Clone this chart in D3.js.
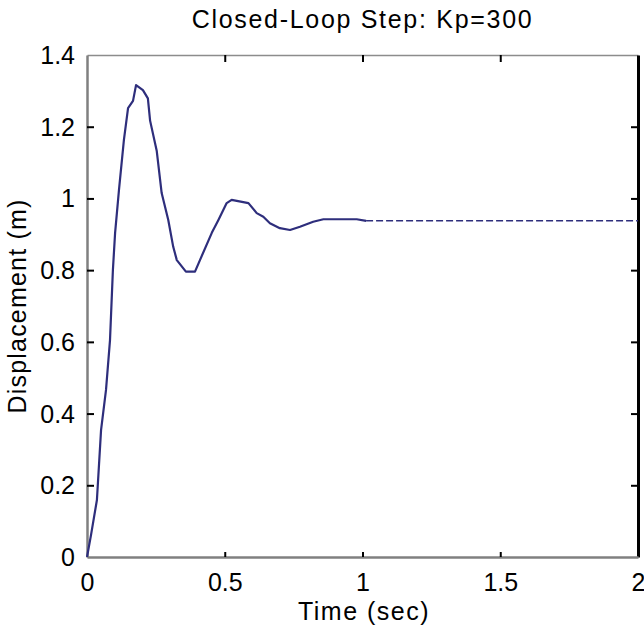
<!DOCTYPE html>
<html>
<head>
<meta charset="utf-8">
<script src="https://cdn.jsdelivr.net/npm/d3@7"></script>
<style>
  body { margin: 0; background: #fff; }
  svg text { font-family: "Liberation Sans", Arial, sans-serif; fill: #000; }
</style>
</head>
<body>
<svg width="644" height="626"></svg>
<script>
// step response (time in sec, displacement in m)
var times = [0, 0.0145, 0.036, 0.051, 0.069, 0.0835, 0.094, 0.102, 0.116, 0.134,
             0.149, 0.167, 0.178, 0.203, 0.221, 0.229, 0.253, 0.271, 0.295, 0.313,
             0.326, 0.359, 0.392, 0.410, 0.453, 0.477, 0.507, 0.525, 0.586, 0.616,
             0.640, 0.664, 0.700, 0.737, 0.773, 0.821, 0.858, 0.979, 1.013];
var displacement = [0, 0.061, 0.159, 0.354, 0.466, 0.605, 0.80, 0.904, 1.023, 1.163,
                    1.252, 1.272, 1.316, 1.302, 1.279, 1.217, 1.133, 1.015, 0.94, 0.865,
                    0.828, 0.796, 0.796, 0.828, 0.904, 0.94, 0.987, 0.996, 0.987, 0.959,
                    0.949, 0.931, 0.917, 0.912, 0.921, 0.935, 0.942, 0.942, 0.9375];
var finalValue = 0.9375;
var finalTimes = [1.013, 2];

var xTicks = [0, 0.5, 1, 1.5, 2];
var yTicks = [0, 0.2, 0.4, 0.6, 0.8, 1, 1.2, 1.4];

var svg = d3.select("svg");
var plotL = 87, plotR = 638, plotT = 55, plotB = 557;

var x = d3.scaleLinear().domain([0, 2]).range([plotL, plotR]);
var y = d3.scaleLinear().domain([0, 1.4]).range([plotB, plotT]);

var fmt = function(d) { return String(+d.toFixed(1)); };

// top and right frame, ticks only
svg.append("g")
    .attr("transform", "translate(0," + plotT + ")")
    .call(d3.axisTop(x).tickValues(xTicks.slice(1, 4)).tickSize(-7).tickSizeOuter(0).tickFormat(""))
    .call(function(g) {
      g.select(".domain").attr("stroke", "#8c8c8c").attr("stroke-width", 1.5);
      g.selectAll(".tick line").attr("stroke", "#000").attr("stroke-width", 2);
    });

svg.append("g")
    .attr("transform", "translate(" + plotR + ",0)")
    .call(d3.axisRight(y).tickValues(yTicks.slice(1, 7)).tickSize(-7).tickSizeOuter(0).tickFormat(""))
    .call(function(g) {
      g.select(".domain").attr("stroke", "#000").attr("stroke-width", 3);
      g.selectAll(".tick line").attr("stroke", "#000").attr("stroke-width", 2);
    });

// left axis
svg.append("g")
    .attr("transform", "translate(" + plotL + ",0)")
    .call(d3.axisLeft(y).tickValues(yTicks).tickSize(-7).tickSizeOuter(0).tickPadding(12).tickFormat(fmt))
    .call(function(g) {
      g.select(".domain").attr("stroke", "#808080").attr("stroke-width", 2.5);
      g.selectAll(".tick line").attr("stroke", "#000").attr("stroke-width", 2)
        .filter(function(d) { return d == 0 || d == 1.4; }).remove();
      g.selectAll(".tick text").attr("font-size", 25).attr("fill", "#000")
        .attr("font-family", "Liberation Sans, Arial, sans-serif").attr("dy", "0.34em");
    });

// bottom axis
svg.append("g")
    .attr("transform", "translate(0," + plotB + ")")
    .call(d3.axisBottom(x).tickValues(xTicks).tickSize(-5).tickSizeOuter(0).tickPadding(16).tickFormat(fmt))
    .call(function(g) {
      g.select(".domain").attr("stroke", "#808080").attr("stroke-width", 2.5);
      g.selectAll(".tick line").attr("stroke", "#000").attr("stroke-width", 2)
        .filter(function(d) { return d == 0 || d == 2; }).remove();
      g.selectAll(".tick text").attr("font-size", 25).attr("fill", "#000")
        .attr("font-family", "Liberation Sans, Arial, sans-serif");
    });

// response curve
var line = d3.line()
    .x(function(d) { return x(d[0]); })
    .y(function(d) { return y(d[1]); });

svg.append("path")
    .datum(d3.zip(times, displacement))
    .attr("fill", "none")
    .attr("stroke", "#2e2e7c")
    .attr("stroke-width", 2.2)
    .attr("stroke-linejoin", "round")
    .attr("d", line);

// steady state, dashed
svg.append("path")
    .datum(finalTimes.map(function(t) { return [t, finalValue]; }))
    .attr("fill", "none")
    .attr("stroke", "#2e2e7c")
    .attr("stroke-width", 1.5)
    .attr("stroke-dasharray", "7,3")
    .attr("d", line);

// titles
svg.append("text")
    .attr("x", (plotL + plotR) / 2)
    .attr("y", 28)
    .attr("text-anchor", "middle")
    .attr("font-size", 25)
    .attr("letter-spacing", 1.7)
    .text("Closed-Loop Step: Kp=300");

svg.append("text")
    .attr("x", 364)
    .attr("y", 620)
    .attr("text-anchor", "middle")
    .attr("font-size", 25)
    .attr("letter-spacing", 1.5)
    .text("Time (sec)");

svg.append("text")
    .attr("transform", "translate(26," + (plotT + plotB) / 2 + ") rotate(-90)")
    .attr("text-anchor", "middle")
    .attr("font-size", 25)
    .attr("letter-spacing", 1.2)
    .text("Displacement (m)");
</script>
</body>
</html>
